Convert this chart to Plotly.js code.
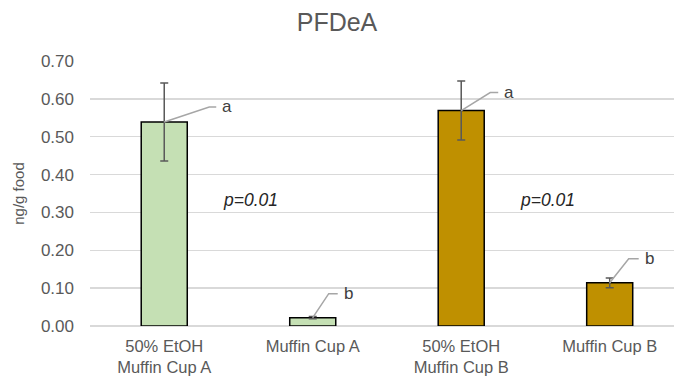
<!DOCTYPE html>
<html>
<head>
<meta charset="utf-8">
<script src="https://cdn.plot.ly/plotly-3.0.1.min.js"></script>
<style>html,body{margin:0;padding:0;background:#fff;}#chart{width:674px;height:376px;}</style>
</head>
<body>
<div id="chart"></div>
<script>
// Data
const categories = ["50% EtOH<br>Muffin Cup A", "Muffin Cup A", "50% EtOH<br>Muffin Cup B", "Muffin Cup B"];
const values = [0.539, 0.022, 0.569, 0.114];
const errors = [0.103, 0.003, 0.078, 0.013];
const letters = ["a", "b", "a", "b"];
const barColors = ["#c5e0b4", "#c5e0b4", "#bf9000", "#bf9000"];
const pLabels = ["p=0.01", "p=0.01"];
const pPositions = [0.5, 2.5];
const pY = 0.333;
const yTicks = [0, 0.1, 0.2, 0.3, 0.4, 0.5, 0.6, 0.7];

const xIdx = categories.map((c, i) => i);

const trace = {
  type: 'bar',
  x: xIdx,
  y: values,
  width: 0.31,
  marker: {color: barColors, line: {color: '#000000', width: 1.5}},
  error_y: {type: 'data', array: errors, visible: true, color: '#595959', thickness: 1.5, width: 4},
  hoverinfo: 'skip'
};

// leader line pixel offsets (style)
const leaders = [
  {dx1: 45, dy1: 15, dx2: 52},
  {dx1: 16, dy1: 24, dx2: 25},
  {dx1: 29, dy1: 18, dx2: 37},
  {dx1: 19, dy1: 24, dx2: 29}
];

const shapes = values.map((v, i) => ({
  type: 'path',
  xref: 'x', yref: 'y',
  xsizemode: 'pixel', ysizemode: 'pixel',
  xanchor: i, yanchor: v,
  path: `M0,0 L${leaders[i].dx1},${leaders[i].dy1} L${leaders[i].dx2},${leaders[i].dy1}`,
  line: {color: '#a6a6a6', width: 1.5}
}));

const annotations = values.map((v, i) => ({
  x: i, y: v, xref: 'x', yref: 'y',
  text: letters[i], showarrow: false,
  xanchor: 'left', yanchor: 'middle',
  xshift: leaders[i].dx2 + 4, yshift: leaders[i].dy1,
  font: {size: 17, color: '#404040', family: 'Liberation Sans, Arial, sans-serif'}
})).concat(pLabels.map((t, j) => ({
  x: pPositions[j], y: pY, xref: 'x', yref: 'y',
  text: '<i>' + t + '</i>', showarrow: false,
  xanchor: 'center', yanchor: 'middle', xshift: 12,
  font: {size: 17.5, color: '#262626', family: 'Liberation Sans, Arial, sans-serif'}
})));

const layout = {
  width: 674, height: 376,
  margin: {l: 90, r: 0, t: 61, b: 50},
  paper_bgcolor: '#ffffff', plot_bgcolor: '#ffffff',
  font: {family: 'Liberation Sans, Arial, sans-serif', color: '#595959'},
  title: {text: 'PFDeA', x: 0.5, xanchor: 'center', y: 1 - 22/376, yanchor: 'middle',
          font: {size: 25, color: '#595959'}},
  showlegend: false,
  bargap: 0,
  xaxis: {
    range: [-0.5, 3.433],
    tickmode: 'array', tickvals: xIdx, ticktext: categories,
    showgrid: false, zeroline: false, showline: false, ticks: '',
    ticklabelstandoff: 8,
    tickfont: {size: 16.5, color: '#595959'},
    fixedrange: true
  },
  yaxis: {
    range: [0, 0.7],
    tickmode: 'array', tickvals: yTicks, tickformat: '.2f',
    showgrid: true, gridcolor: '#d9d9d9', gridwidth: 1.5,
    zeroline: true, zerolinecolor: '#d9d9d9', zerolinewidth: 1.5,
    showline: false, ticks: '', ticklabelstandoff: 15,
    tickfont: {size: 17, color: '#595959'},
    title: {text: 'ng/g food', font: {size: 15, color: '#595959'}, standoff: 12},
    fixedrange: true
  },
  shapes: shapes,
  annotations: annotations
};

Plotly.newPlot('chart', [trace], layout, {displayModeBar: false, staticPlot: true});
</script>
</body>
</html>
